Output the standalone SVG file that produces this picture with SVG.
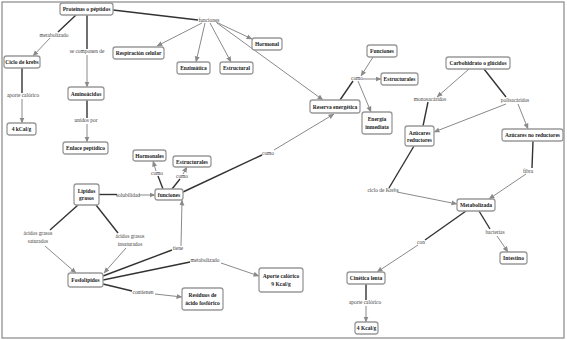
<svg xmlns="http://www.w3.org/2000/svg" width="567" height="340" viewBox="0 0 567 340">
<defs>
<marker id="ah" markerUnits="userSpaceOnUse" markerWidth="6" markerHeight="6" refX="5.5" refY="3" orient="auto">
<path d="M0,0.5 L6,3 L0,5.5 z" fill="#8a8a8a"/>
</marker>
</defs>
<style>
.n rect{fill:#fff;stroke:#999;stroke-width:1.3}
.n text{font-family:"Liberation Serif",serif;font-weight:bold;font-size:5.5px;fill:#222;text-anchor:middle}
.l{font-family:"Liberation Serif",serif;font-size:5.4px;fill:#444;text-anchor:middle}
.d{stroke:#333;stroke-width:1.4;fill:none}
.g{stroke:#8a8a8a;stroke-width:1;fill:none;marker-end:url(#ah)}
</style>
<rect x="0" y="0" width="567" height="340" fill="#fff"/>
<rect x="2" y="2" width="562" height="336" fill="none" stroke="#888" stroke-width="1.2"/>
<g id="connectors">
<path class="d" d="M76,15 L58,32"/><path class="g" d="M50,38 L33,56"/>
<path class="d" d="M87,15 L87,49"/><path class="g" d="M87,55 L87,87"/>
<path class="d" d="M87,100 L87,118"/><path class="g" d="M87,124 L87,142"/>
<path class="d" d="M22,68 L22,93"/><path class="g" d="M22,99 L22,123"/>
<path class="d" d="M113,10 L198,20"/>
<path class="g" d="M202,23 L157,46"/>
<path class="g" d="M205,23 L196,62"/>
<path class="g" d="M210,23 L231,62"/>
<path class="g" d="M216,22 L252,39"/>
<path class="g" d="M217,23 L323,100"/>
<path class="d" d="M340,100 L353,81"/>
<path class="g" d="M373,57 L361,76"/>
<path class="g" d="M363,79 L381,79"/>
<path class="g" d="M358,81 L371,112"/>
<path class="d" d="M183,192 L262,155"/><path class="g" d="M274,150 L334,114"/>
<path class="g" d="M469,69 L437,97"/>
<path class="d" d="M428,102 L423,126"/>
<path class="d" d="M484,69 L506,97"/>
<path class="g" d="M506,104 L434,132"/>
<path class="g" d="M518,104 L528,129"/>
<path class="d" d="M414,146 L389,188"/><path class="g" d="M397,192 L457,204"/>
<path class="d" d="M533,141 L532,168"/><path class="g" d="M526,174 L489,199"/>
<path class="d" d="M466,211 L425,240"/><path class="g" d="M418,245 L377,272"/>
<path class="d" d="M479,211 L490,229"/><path class="g" d="M497,236 L508,252"/>
<path class="d" d="M366,284 L366,300"/><path class="g" d="M366,306 L366,322"/>
<path class="d" d="M99,194.5 L117,194.5"/><path class="g" d="M139,195 L155,195"/>
<path class="d" d="M163,189 L158,176"/><path class="g" d="M156,171 L153,161"/>
<path class="d" d="M172,189 L180,179"/><path class="g" d="M183,174 L187,167"/>
<path class="d" d="M78,205 L50,230"/><path class="g" d="M45,246 L76,273"/>
<path class="d" d="M96,205 L118,233"/><path class="g" d="M126,248 L104,273"/>
<path class="d" d="M103,276 L172,250"/><path class="g" d="M181,246 L182,200"/>
<path class="d" d="M103,280 L190,262"/><path class="g" d="M221,263 L259,276"/>
<path class="d" d="M103,284 L132,291"/><path class="g" d="M155,294 L182,297"/>
</g>
<g id="labels">
<text class="l" x="209" y="22">funciones</text>
<text class="l" x="54" y="37">metabolizado</text>
<text class="l" x="87" y="53">se componen de</text>
<text class="l" x="23" y="97">aporte calórico</text>
<text class="l" x="86" y="122">unidos por</text>
<text class="l" x="357" y="80">como</text>
<text class="l" x="430" y="101">monosacáridos</text>
<text class="l" x="515" y="102">polisacáridos</text>
<text class="l" x="528" y="173">fibra</text>
<text class="l" x="383" y="192">ciclo de Krebs</text>
<text class="l" x="495" y="234">bacterias</text>
<text class="l" x="421" y="244">con</text>
<text class="l" x="365" y="304">aporte calórico</text>
<text class="l" x="128" y="197">solubilidad</text>
<text class="l" x="157" y="175">como</text>
<text class="l" x="182" y="178">como</text>
<text class="l" x="268" y="155">como</text>
<text class="l" x="38" y="235">ácidos grasos</text>
<text class="l" x="38" y="243">saturados</text>
<text class="l" x="130" y="238">ácidos grasos</text>
<text class="l" x="130" y="246">insaturados</text>
<text class="l" x="178" y="250">tiene</text>
<text class="l" x="205" y="262">metabolizado</text>
<text class="l" x="143" y="294">contienen</text>
</g>
<g id="proteinas" class="n"><rect x="60" y="3" width="53" height="12" rx="2.5"/><text x="86.5" y="11">Proteínas o péptidos</text></g>
<g id="krebs" class="n"><rect x="4" y="56" width="36" height="12" rx="2.5"/><text x="22" y="64">Ciclo de krebs</text></g>
<g id="kcal4" class="n"><rect x="7" y="123" width="29" height="12" rx="2.5"/><text x="21.5" y="131">4 kCal/g</text></g>
<g id="aminoacidos" class="n"><rect x="68" y="87" width="36" height="13" rx="2.5"/><text x="86" y="95.5">Aminoácidos</text></g>
<g id="enlace" class="n"><rect x="63" y="142" width="45" height="12" rx="2.5"/><text x="85.5" y="150">Enlace peptídico</text></g>
<g id="respiracion" class="n"><rect x="113" y="47" width="51" height="12" rx="2.5"/><text x="138.5" y="55">Respiración celular</text></g>
<g id="enzimatica" class="n"><rect x="177" y="62" width="33" height="12" rx="2.5"/><text x="193.5" y="70">Enzimática</text></g>
<g id="estructural" class="n"><rect x="220" y="62" width="33" height="12" rx="2.5"/><text x="236.5" y="70">Estructural</text></g>
<g id="hormonal" class="n"><rect x="252" y="38" width="30" height="12" rx="2.5"/><text x="267" y="46">Hormonal</text></g>
<g id="reserva" class="n"><rect x="310" y="100" width="50" height="13" rx="2.5"/><text x="335" y="108.5">Reserva energética</text></g>
<g id="funciones-top" class="n"><rect x="367" y="45" width="30" height="12" rx="2.5"/><text x="382" y="53">Funciones</text></g>
<g id="estructurales-top" class="n"><rect x="381" y="73" width="37" height="12" rx="2.5"/><text x="399.5" y="81">Estructurales</text></g>
<g id="energia" class="n"><rect x="362" y="112" width="30" height="22" rx="2.5"/><text x="377" y="121">Energía</text><text x="377" y="129">inmediata</text></g>
<g id="carbohidrato" class="n"><rect x="446" y="57" width="64" height="12" rx="2.5"/><text x="478" y="65">Carbohidrato o glúcidos</text></g>
<g id="reductores" class="n"><rect x="405" y="126" width="29" height="20" rx="2.5"/><text x="419.5" y="134.5">Azúcares</text><text x="419.5" y="142">reductores</text></g>
<g id="noreductores" class="n"><rect x="502" y="129" width="61" height="12" rx="2.5"/><text x="532.5" y="137">Azúcares no reductores</text></g>
<g id="metabolizada" class="n"><rect x="457" y="199" width="38" height="12" rx="2.5"/><text x="476" y="207">Metabolizada</text></g>
<g id="intestino" class="n"><rect x="500" y="252" width="27" height="12" rx="2.5"/><text x="513.5" y="260">Intestino</text></g>
<g id="cinetica" class="n"><rect x="347" y="272" width="38" height="12" rx="2.5"/><text x="366" y="280">Cinética lenta</text></g>
<g id="kcal4b" class="n"><rect x="355" y="322" width="23" height="12" rx="2.5"/><text x="366.5" y="330">4 Kcal/g</text></g>
<g id="lipidos" class="n"><rect x="74" y="184" width="25" height="21" rx="2.5"/><text x="86.5" y="192.5">Lípidos</text><text x="86.5" y="200">grasos</text></g>
<g id="funciones-c" class="n"><rect x="155" y="189" width="28" height="11" rx="2.5"/><text x="169" y="196.5">funciones</text></g>
<g id="hormonales" class="n"><rect x="133" y="150" width="33" height="11" rx="2.5"/><text x="149.5" y="157.5">Hormonales</text></g>
<g id="estructurales-c" class="n"><rect x="173" y="156" width="38" height="11" rx="2.5"/><text x="192" y="163.5">Estructurales</text></g>
<g id="fosfolipidos" class="n"><rect x="68" y="273" width="35" height="14" rx="2.5"/><text x="85.5" y="282">Fosfolípidos</text></g>
<g id="aporte9" class="n"><rect x="259" y="268" width="44" height="24" rx="2.5"/><text x="281" y="277.5">Aporte calórico</text><text x="281" y="286">9 Kcal/g</text></g>
<g id="residuos" class="n"><rect x="182" y="288" width="41" height="22" rx="2.5"/><text x="202.5" y="297">Residuos de</text><text x="202.5" y="305">ácido fosfórico</text></g>
</svg>
